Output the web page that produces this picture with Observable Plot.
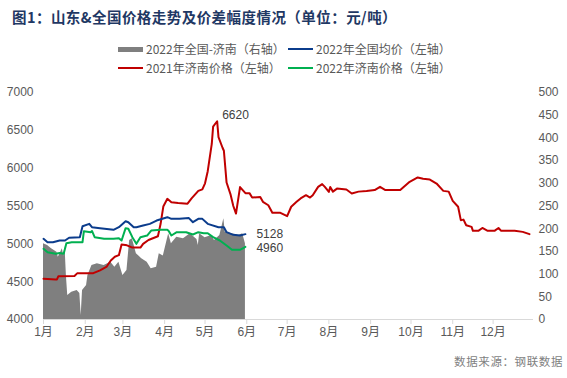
<!DOCTYPE html>
<html><head><meta charset="utf-8">
<script src="https://cdn.jsdelivr.net/npm/d3@7"></script>
<script src="https://cdn.jsdelivr.net/npm/@observablehq/plot@0.6"></script>
<style>
html,body{margin:0;padding:0;background:#fff;}
#wrap{position:relative;width:567px;height:378px;overflow:hidden;font-family:"Noto Sans CJK SC","Liberation Sans",sans-serif;}
#title{position:absolute;left:12px;top:6px;font-size:14.5px;font-weight:bold;color:#1F3864;white-space:nowrap;letter-spacing:0.45px;}
.leg{position:absolute;font-size:12px;color:#595959;white-space:nowrap;line-height:14px;}
.sw{position:absolute;}
#src{position:absolute;right:4px;top:353px;font-size:11.5px;color:#7f7f7f;letter-spacing:0.6px;white-space:nowrap;}
#chart{position:absolute;left:0;top:0;}
</style></head>
<body>
<div id="wrap">
  <div id="chart"></div>
  <div id="title">图1：山东&amp;全国价格走势及价差幅度情况（单位：元/吨）</div>
  <div id="legend"></div>
  <div id="src">数据来源：钢联数据</div>
</div>
<script>
// ---- data ----
const seriesNames = ["2022年全国-济南（右轴）","2022年全国均价（左轴）","2021年济南价格（左轴）","2022年济南价格（左轴）"];
const seriesColors = ["#7f7f7f","#0B3C8C","#C00000","#00B050"];
const monthLabels = ["1月","2月","3月","4月","5月","6月","7月","8月","9月","10月","11月","12月"];
const leftTicks = [4000,4500,5000,5500,6000,6500,7000];
const rightTicks = [0,50,100,150,200,250,300,350,400,450,500];

// 2022 national minus Jinan spread (right axis)
const spread2022 = [
["01-01",167],["01-04",163],["01-07",156],["01-11",148],["01-12",137],["01-15",156],["01-16",140],["01-17",160],
["01-18",97],["01-19",53],["01-22",60],["01-26",64],["01-28",57],["01-29",9],["01-30",64],["02-02",75],["02-03",97],
["02-06",119],["02-10",123],["02-15",119],["02-20",126],["02-23",115],["02-26",126],["03-01",97],["03-04",108],
["03-06",174],["03-08",178],["03-11",145],["03-15",134],["03-19",126],["03-22",112],["03-26",115],["03-28",145],
["03-31",140],["04-04",189],["04-06",167],["04-10",181],["04-15",178],["04-20",189],["04-25",176],["04-26",163],
["04-27",189],["05-01",180],["05-06",185],["05-08",174],["05-12",185],["05-15",222],["05-16",192],["05-21",189],
["05-26",185],["05-29",189],["05-31",167]
];
// 2022 national average price (left axis)
const national2022 = [
["01-01",5066],["01-04",5021],["01-08",5021],["01-13",5044],["01-17",5044],["01-20",5080],["01-28",5088],["01-30",5233],
["02-04",5264],["02-06",5220],["02-12",5207],["02-22",5185],["02-26",5220],["03-03",5299],["03-05",5286],["03-09",5220],
["03-11",5220],["03-16",5242],["03-21",5264],["03-26",5308],["04-03",5352],["04-06",5330],["04-12",5330],["04-19",5340],
["04-22",5286],["04-26",5330],["04-29",5330],["05-03",5264],["05-11",5220],["05-15",5220],["05-17",5154],["05-22",5119],
["05-27",5110],["05-31",5128]
];
// 2021 Jinan price (left axis)
const jinan2021 = [
["01-01",4538],["01-10",4530],["01-11",4530],["01-12",4570],["01-24",4575],["01-26",4610],["02-07",4612],["02-12",4650],
["02-17",4700],["02-20",4780],["02-23",4830],["02-26",4850],["02-28",4990],["03-04",4980],["03-08",4950],["03-14",4950],
["03-16",5000],["03-20",5050],["03-27",5100],["03-29",5265],["03-31",5493],["04-03",5595],["04-06",5550],["04-11",5540],
["04-18",5530],["04-21",5600],["04-26",5700],["04-29",5720],["05-01",5800],["05-03",5960],["05-06",6320],["05-07",6550],
["05-10",6620],["05-11",6410],["05-14",6270],["05-15",6230],["05-17",5810],["05-20",5650],["05-22",5500],["05-24",5400],
["05-27",5750],["05-31",5670],["06-03",5670],["06-05",5612],["06-11",5620],["06-13",5555],["06-17",5510],["06-20",5410],
["06-26",5410],["07-01",5366],["07-04",5490],["07-08",5555],["07-11",5600],["07-15",5643],["07-18",5612],["07-20",5643],
["07-24",5753],["07-27",5789],["07-29",5753],["08-01",5687],["08-02",5750],["08-04",5690],["08-07",5730],["08-14",5718],
["08-18",5666],["08-23",5690],["08-29",5697],["09-04",5710],["09-08",5753],["09-12",5710],["09-23",5710],["09-30",5820],
["10-06",5877],["10-10",5860],["10-15",5850],["10-20",5797],["10-25",5700],["10-29",5690],["11-01",5568],["11-05",5490],
["11-07",5313],["11-09",5320],["11-11",5246],["11-15",5224],["11-16",5172],["11-20",5172],["11-23",5210],["11-27",5172],
["12-02",5172],["12-05",5210],["12-07",5172],["12-17",5172],["12-23",5158],["12-28",5128]
];
// 2022 Jinan price (left axis)
const jinan2022 = [
["01-01",4934],["01-04",4890],["01-10",4868],["01-13",4880],["01-16",4868],["01-18",5009],["01-22",5022],["01-30",5022],
["01-31",5167],["02-05",5154],["02-06",5170],["02-08",5088],["02-15",5066],["02-22",5066],["02-26",5075],["02-28",5044],
["03-03",5207],["03-05",5200],["03-08",5088],["03-11",5000],["03-14",5088],["03-19",5110],["03-22",5176],["03-29",5185],
["04-03",5185],["04-04",5170],["04-06",5110],["04-10",5154],["04-17",5154],["04-22",5123],["04-26",5154],["04-30",5140],
["05-03",5140],["05-07",5088],["05-12",5044],["05-17",4978],["05-21",4921],["05-27",4921],["05-31",4960]
];

// ---- helpers ----
const YEAR = 2022;
const parse = md => new Date(Date.UTC(YEAR, +md.slice(0,2)-1, +md.slice(3)));
const toRec = arr => arr.map(([d,v]) => ({date: parse(d), value: v}));
// right axis 0..500 maps onto left axis 4000..7000
const rightToLeft = r => 4000 + r * (7000-4000)/500;
const leftToRight = l => (l - 4000) * 500/(7000-4000);

const sp = toRec(spread2022), nat = toRec(national2022), j21 = toRec(jinan2021), j22 = toRec(jinan2022);
const peak = j21.reduce((a,b)=> b.value > a.value ? b : a);
const lastNat = nat[nat.length-1], lastJ22 = j22[j22.length-1];

const monthStarts = d3.utcMonth.range(new Date(Date.UTC(YEAR,0,1)), new Date(Date.UTC(YEAR,11,2)));
const axisFont = "Liberation Sans, Noto Sans CJK SC, sans-serif";

const chart = Plot.plot({
  width: 567, height: 378,
  marginTop: 92, marginBottom: 59, marginLeft: 43, marginRight: 34,
  style: {fontFamily: axisFont, fontSize: "12px", color: "#595959", background: "transparent", overflow: "visible"},
  x: {type: "utc", domain: [new Date(Date.UTC(YEAR,0,1)), new Date(Date.UTC(YEAR,11,31))]},
  y: {domain: [4000, 7000]},
  marks: [
    Plot.areaY(sp, {x: "date", y1: rightToLeft(0), y2: d => rightToLeft(d.value), fill: seriesColors[0], curve: "linear"}),
    Plot.ruleY([4000], {stroke: "#d9d9d9", strokeWidth: 1}),
    Plot.line(j21, {x: "date", y: "value", stroke: seriesColors[2], strokeWidth: 2}),
    Plot.line(nat, {x: "date", y: "value", stroke: seriesColors[1], strokeWidth: 2}),
    Plot.line(j22, {x: "date", y: "value", stroke: seriesColors[3], strokeWidth: 2}),
    Plot.text([peak], {x: "date", y: "value", text: d => String(d.value), dx: 5, dy: -6, textAnchor: "start", fill: "#404040", fontSize: 12}),
    Plot.text([lastNat], {x: "date", y: "value", text: d => String(d.value), dx: 11, dy: 0, textAnchor: "start", fill: "#404040", fontSize: 12}),
    Plot.text([lastJ22], {x: "date", y: "value", text: d => String(d.value), dx: 11, dy: 1, textAnchor: "start", fill: "#404040", fontSize: 12}),
    Plot.axisX({ticks: monthStarts, tickFormat: d => monthLabels[d.getUTCMonth()], tickSize: 5, tickPadding: 3, stroke: "#d9d9d9", fill: "#595959", label: null}),
    Plot.axisY({anchor: "left", ticks: leftTicks, tickFormat: d => String(d), tickSize: 0, tickPadding: 10, fill: "#595959", label: null}),
    Plot.axisY({anchor: "right", ticks: rightTicks.map(rightToLeft), tickFormat: d => String(Math.round(leftToRight(d))), tickSize: 0, tickPadding: 5, fill: "#595959", label: null})
  ]
});
document.getElementById("chart").appendChild(chart);

// ---- legend ----
const legendPos = [[118,42,"rect"],[288,42,"line"],[118,61,"line"],[288,61,"line"]];
const order = [0,1,2,3];
const leg = document.getElementById("legend");
order.forEach((i,k) => {
  const [x,y,kind] = legendPos[k];
  const sw = document.createElement("div");
  sw.className = "sw";
  sw.style.left = x + "px";
  sw.style.width = "25px";
  sw.style.background = seriesColors[i];
  if (kind === "rect") { sw.style.top = (y+5) + "px"; sw.style.height = "5px"; }
  else { sw.style.top = (y+6) + "px"; sw.style.height = "2px"; }
  leg.appendChild(sw);
  const t = document.createElement("div");
  t.className = "leg";
  t.style.left = (x+28) + "px";
  t.style.top = y + "px";
  t.textContent = seriesNames[i];
  leg.appendChild(t);
});
</script>
</body></html>
